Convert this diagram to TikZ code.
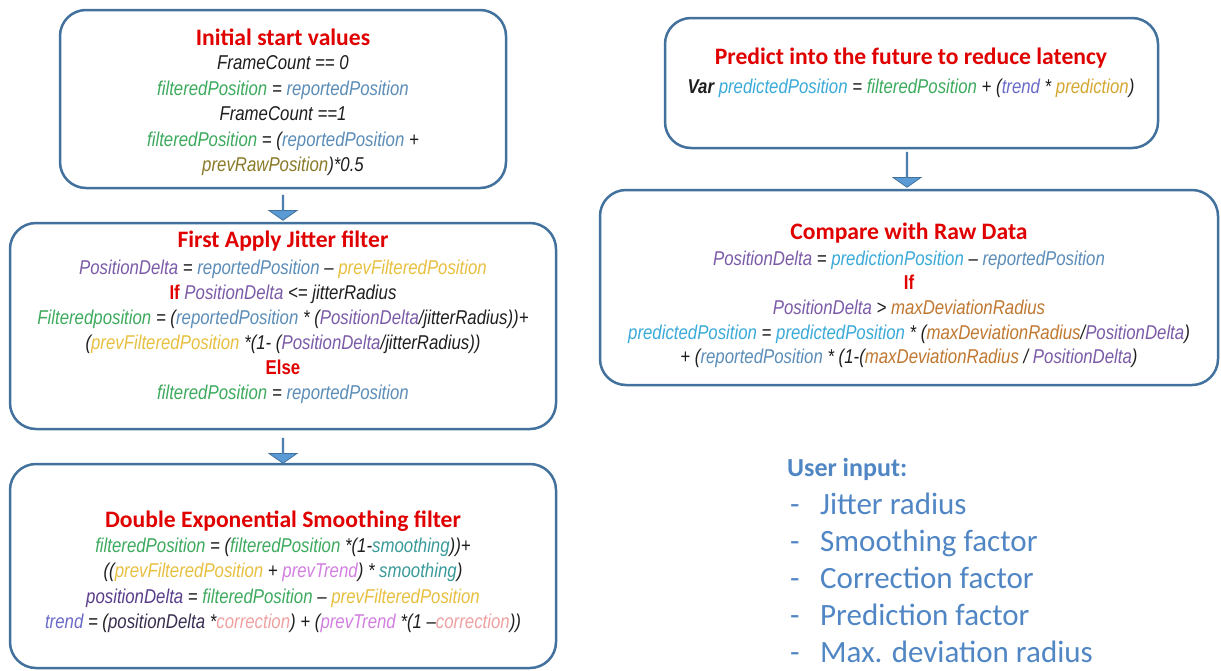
\documentclass[tikz,border=0pt]{standalone}
\usepackage{fontspec}
\setmainfont{Liberation Sans}
\newfontfamily\bodyf{Liberation Sans}[FakeStretch=0.84,Ligatures=TeX]
\newfontfamily\calf{Carlito}
\usetikzlibrary{shapes.arrows,calc}
\definecolor{boxline}{HTML}{41719C}
\definecolor{arrfill}{HTML}{5B9BD5}
\definecolor{ttlred}{HTML}{E00000}
\definecolor{cgreen}{HTML}{3DAA5E}
\definecolor{cblue}{HTML}{5B8DB8}
\definecolor{colive}{HTML}{8A7A28}
\definecolor{cpurple}{HTML}{7B5BA8}
\definecolor{cyellow}{HTML}{E8C040}
\definecolor{cteal}{HTML}{3A9A9A}
\definecolor{cpink}{HTML}{D27FE0}
\definecolor{cdpurple}{HTML}{5A3D8A}
\definecolor{cdark}{HTML}{3A2F50}
\definecolor{ctrend}{HTML}{6A6AC8}
\definecolor{ccorr}{HTML}{F0A0A0}
\definecolor{ccyan}{HTML}{3AAAD8}
\definecolor{cgold}{HTML}{D4A830}
\definecolor{cbrown}{HTML}{C07830}
\definecolor{cuser}{HTML}{5086C4}
\definecolor{ctext}{HTML}{1E1E1E}
\newcommand{\tG}[1]{\textcolor{cgreen}{#1}}
\newcommand{\tB}[1]{\textcolor{cblue}{#1}}
\newcommand{\tO}[1]{\textcolor{colive}{#1}}
\newcommand{\tP}[1]{\textcolor{cpurple}{#1}}
\newcommand{\tY}[1]{\textcolor{cyellow}{#1}}
\newcommand{\tT}[1]{\textcolor{cteal}{#1}}
\newcommand{\tK}[1]{\textcolor{cpink}{#1}}
\newcommand{\tDP}[1]{\textcolor{cdpurple}{#1}}
\newcommand{\tDK}[1]{\textcolor{cdark}{#1}}
\newcommand{\tTR}[1]{\textcolor{ctrend}{#1}}
\newcommand{\tC}[1]{\textcolor{ccorr}{#1}}
\newcommand{\tCY}[1]{\textcolor{ccyan}{#1}}
\newcommand{\tGD}[1]{\textcolor{cgold}{#1}}
\newcommand{\tBR}[1]{\textcolor{cbrown}{#1}}
\newcommand{\tR}[1]{\textcolor{ttlred}{\upshape\bfseries #1}}
\begin{document}
\begin{tikzpicture}[x=1pt,y=-1pt,
  box/.style={draw=boxline,line width=2.5pt,rounded corners=26pt,fill=white,inner sep=0pt},
  ln/.style={anchor=base,inner sep=0pt,text=ctext,font=\bodyf\itshape\fontsize{20}{24}\selectfont},
  ttl/.style={anchor=base,inner sep=0pt,text=ttlred,font=\calf\bfseries\fontsize{23.6}{27}\selectfont},
  usr/.style={anchor=base west,inner sep=0pt,text=cuser,font=\calf\fontsize{31}{35}\selectfont},
  downarrow/.style={single arrow,draw=boxline,line width=0.8pt,fill=arrfill,shape border rotate=270,
    minimum width=28pt,single arrow head extend=6.5pt,single arrow tip angle=110,inner sep=0pt,anchor=tip}]
\useasboundingbox (0,0) rectangle (1221,670);
% boxes
\node[box,minimum width=446pt,minimum height=178pt] (b1) at (283,99) {};
\node[box,minimum width=546pt,minimum height=206pt] (b2) at (283,326) {};
\node[box,minimum width=546pt,minimum height=204pt] (b3) at (283,566) {};
\node[box,minimum width=493pt,minimum height=130pt] (b4) at (911.5,83) {};
\node[box,minimum width=618pt,minimum height=195pt] (b5) at (909,287.5) {};
% arrows
\node[downarrow,minimum height=25pt] (a1) at ($(b2.north)+(0,-1)$) {};
\node[downarrow,minimum height=25pt] (a2) at ($(b3.north)+(0,1)$) {};
\node[downarrow,minimum height=35pt] (a3) at ($(b5.north)+(-2,-1)$) {};
% box 1
\node[ttl] (t1) at (283,45) {Initial start values};
\node[ln] (l1a) at (283,69.5) {FrameCount == 0};
\node[ln] (l1b) at (283,95) {\tG{filteredPosition} = \tB{reportedPosition}};
\node[ln] (l1c) at (283,120.5) {FrameCount ==1};
\node[ln] (l1d) at (283,146) {\tG{filteredPosition} = (\tB{reportedPosition} +};
\node[ln] (l1e) at (283,171.5) {\tO{prevRawPosition})*0.5};
% box 2
\node[ttl] (t2) at (283,247) {First Apply Jitter filter};
\node[ln] (l2a) at (283,274.5) {\tP{PositionDelta} = \tB{reportedPosition} – \tY{prevFilteredPosition}};
\node[ln] (l2b) at (283,299.5) {\tR{If} \tP{PositionDelta} <= jitterRadius};
\node[ln] (l2c) at (283,324.5) {\tG{Filteredposition} = (\tB{reportedPosition} * (\tP{PositionDelta}/jitterRadius))+};
\node[ln] (l2d) at (283,349.5) {(\tY{prevFilteredPosition} *(1- (\tP{PositionDelta}/jitterRadius))};
\node[ln] (l2e) at (283,374.5) {\tR{Else}};
\node[ln] (l2f) at (283,399.5) {\tG{filteredPosition} = \tB{reportedPosition}};
% box 3
\node[ttl] (t3) at (283,527) {Double Exponential Smoothing filter};
\node[ln] (l3a) at (283,552.5) {\tG{filteredPosition} = (\tG{filteredPosition} *(1-\tT{smoothing}))+};
\node[ln] (l3b) at (283,577.5) {((\tY{prevFilteredPosition} + \tK{prevTrend}) * \tT{smoothing})};
\node[ln] (l3c) at (283,603.5) {\tDP{positionDelta} = \tG{filteredPosition} – \tY{prevFilteredPosition}};
\node[ln] (l3d) at (283,628.5) {\tTR{trend} = (\tDK{positionDelta} *\tC{correction}) + (\tK{prevTrend} *(1 –\tC{correction}))};
% box 4
\node[ttl] (t4) at (911,64) {Predict into the future to reduce latency};
\node[ln] (l4a) at (911,93.5) {{\upshape\bfseries\itshape Var} \tCY{predictedPosition} = \tG{filteredPosition} + (\tTR{trend} * \tGD{prediction})};
% box 5
\node[ttl] (t5) at (909,239) {Compare with Raw Data};
\node[ln] (l5a) at (909,265.5) {\tP{PositionDelta} = \tCY{predictionPosition} – \tB{reportedPosition}};
\node[ln] (l5b) at (909,289.5) {\tR{If}};
\node[ln] (l5c) at (909,314.5) {\tP{PositionDelta} > \tBR{maxDeviationRadius}};
\node[ln] (l5d) at (909,339.5) {\tCY{predictedPosition} = \tCY{predictedPosition} * (\tBR{maxDeviationRadius}/\tP{PositionDelta})};
\node[ln] (l5e) at (909,363.5) {+ (\tB{reportedPosition} * (1-(\tBR{maxDeviationRadius} / \tP{PositionDelta})};
% user input
\node[usr,font=\calf\bfseries\fontsize{26}{30}\selectfont] (u0) at (787,476) {User input:};
\node[usr] (d1) at (790,514) {-};
\node[usr] (u1) at (820,514) {Jitter radius};
\node[usr] (d2) at (790,551) {-};
\node[usr] (u2) at (820,551) {Smoothing factor};
\node[usr] (d3) at (790,588) {-};
\node[usr] (u3) at (820,588) {Correction factor};
\node[usr] (d4) at (790,625) {-};
\node[usr] (u4) at (820,625) {Prediction factor};
\node[usr] (d5) at (790,662) {-};
\node[usr] (u5) at (820,662) {Max. deviation radius};
\end{tikzpicture}
\end{document}
